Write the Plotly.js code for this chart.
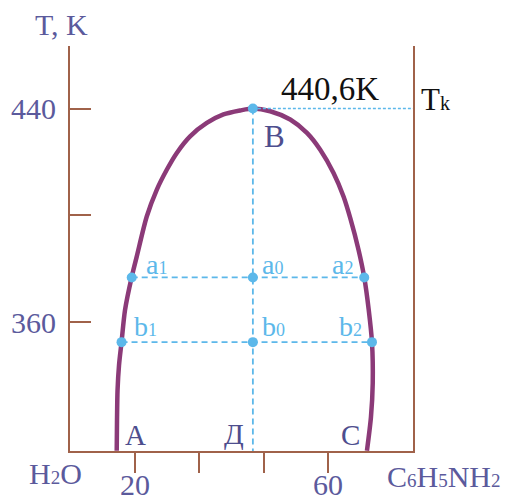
<!DOCTYPE html>
<html>
<head>
<meta charset="utf-8">
<script src="https://cdn.plot.ly/plotly-3.0.1.min.js"></script>
<style>
html,body{margin:0;padding:0;background:#fff;}
#chart{width:506px;height:504px;}
#chart svg text{font-family:"Liberation Serif","Times New Roman",Tinos,"DejaVu Serif",serif !important;}
</style>
</head>
<body>
<div id="chart"></div>
<script>
// ---- data ----
// binodal curve, left branch (bottom -> top) then right branch (top -> bottom)
const curveX = [16.20, 16.26, 16.37, 16.68, 17.20, 17.92, 19.31, 20.35, 22.43, 24.50, 26.58, 28.66, 31.42, 34.88, 38.33, 41.83, 44.44,
                48.03, 52.18, 55.65, 58.41, 61.17, 63.24, 64.64, 66.36, 67.54, 68.47, 69.14, 69.30, 68.93, 68.10];
const curveT = [312.0, 323.4, 334.6, 344.0, 352.6, 364.6, 377.0, 384.6, 399.6, 409.6, 417.1, 423.4, 429.6, 434.6, 437.8, 439.3, 440.0,
                439.0, 435.9, 430.9, 424.6, 415.9, 407.1, 399.0, 387.1, 376.8, 364.6, 352.6, 337.3, 324.6, 312.0];
// critical point B
const critX = 44.44;
const critT = 440.0;
// tie lines a and b
const tieLevels = [376.8, 352.6];            // a, b
const tieLeft   = [19.31, 17.20];            // a1, b1
const tieRight  = [67.54, 69.14];            // a2, b2
const pointNames = ['a', 'b'];
// axes
const xTickVals = [20, 33.33, 46.67, 60];
const xTickText = ['20', '', '', '60'];
const yTickVals = [360, 400, 440];
const yTickText = ['360', '', '440'];
const xMin = 6.51, xMax = 77.65, yMin = 311.88, yMax = 463.4;

// ---- styles ----
const axisColor = '#a0624a';
const curveColor = '#8b3a78';
const blue = '#5cb8ea';
const textBlue = '#5b5a9c';
const serif = 'Liberation Serif, DejaVu Serif, serif';

const traces = [];
traces.push({x: curveX, y: curveT, mode: 'lines', line: {color: curveColor, width: 4.5, shape: 'spline', smoothing: 0.8}, hoverinfo: 'skip'});
// vertical dashed line from B to the axis
traces.push({x: [critX, critX], y: [critT, yMin], mode: 'lines', line: {color: blue, width: 1.8, dash: '6px,4px'}, hoverinfo: 'skip'});
// Tk dotted line
traces.push({x: [critX, xMax], y: [critT, critT], mode: 'lines', line: {color: blue, width: 1.6, dash: '3px,2px'}, hoverinfo: 'skip'});
// tie lines
for (let i = 0; i < tieLevels.length; i++) {
  traces.push({x: [tieLeft[i], tieRight[i]], y: [tieLevels[i], tieLevels[i]], mode: 'lines', line: {color: blue, width: 1.8, dash: '6px,4px'}, hoverinfo: 'skip'});
}
// markers
const mx = [critX], my = [critT];
for (let i = 0; i < tieLevels.length; i++) { mx.push(tieLeft[i], critX, tieRight[i]); my.push(tieLevels[i], tieLevels[i], tieLevels[i]); }
traces.push({x: mx, y: my, mode: 'markers', marker: {color: blue, size: 10}, hoverinfo: 'skip'});

// helper to place text in pixel space of the 506x504 picture
const L = 70, T = 46, W = 343, H = 405;
function px(x, y, text, color, size) {
  return {xref: 'paper', yref: 'paper', x: (x - L) / W, y: (T + H - y) / H, text: text, showarrow: false,
          xanchor: 'center', yanchor: 'middle', font: {family: serif, size: size, color: color}};
}
function small(t, s) { return '<span style="font-size:' + s + 'px">' + t + '</span>'; }
const dark = '#4e4e8e';
const annotations = [
  px(61.5, 24, 'T, K', textBlue, 30),
  px(55, 474, 'H' + small('2', 19) + 'O', textBlue, 30),
  px(444, 476, 'C' + small('6', 19) + 'H' + small('5', 19) + 'NH' + small('2', 19), textBlue, 30),
  px(330, 89, '440,6K', '#111', 33),
  px(435, 100, 'T' + small('k', 20), '#111', 31),
  px(274, 136, 'B', dark, 31),
  px(135, 435, 'A', dark, 29),
  px(234, 434, 'Д', dark, 29),
  px(350, 435, 'C', dark, 29),
  px(156, 264, pointNames[0] + small('1', 18), blue, 28),
  px(272, 264, pointNames[0] + small('0', 18), blue, 28),
  px(342, 264, pointNames[0] + small('2', 18), blue, 28),
  px(145.5, 326, pointNames[1] + small('1', 18), blue, 28),
  px(273.3, 326, pointNames[1] + small('0', 18), blue, 28),
  px(350, 326, pointNames[1] + small('2', 18), blue, 28)
];

const layout = {
  width: 506, height: 504,
  margin: {l: L, r: 506 - L - W, t: T, b: 504 - T - H, pad: 0},
  paper_bgcolor: '#fff', plot_bgcolor: '#fff',
  showlegend: false,
  font: {family: serif},
  xaxis: {range: [xMin, xMax], showline: true, linecolor: axisColor, linewidth: 2, mirror: false,
          ticks: 'outside', ticklen: 20, tickwidth: 2, tickcolor: axisColor,
          tickmode: 'array', tickvals: xTickVals, ticktext: xTickText,
          showgrid: false, zeroline: false, fixedrange: true, ticklabelstandoff: -14,
          tickfont: {family: serif, size: 30, color: textBlue}},
  yaxis: {range: [yMin, yMax], showline: true, linecolor: axisColor, linewidth: 2, mirror: true,
          ticks: 'inside', ticklen: 21, tickwidth: 2, tickcolor: axisColor,
          tickmode: 'array', tickvals: yTickVals, ticktext: yTickText,
          showgrid: false, zeroline: false, fixedrange: true, ticklabelstandoff: 6,
          tickfont: {family: serif, size: 30, color: textBlue}},
  annotations: annotations
};
Plotly.newPlot('chart', traces, layout, {staticPlot: true, displayModeBar: false});
</script>
</body>
</html>
